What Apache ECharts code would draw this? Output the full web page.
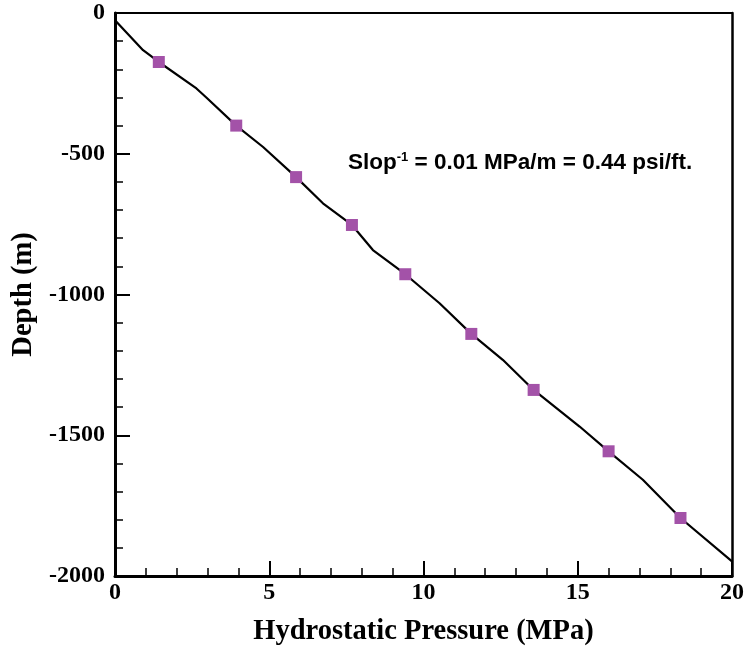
<!DOCTYPE html>
<html>
<head>
<meta charset="utf-8">
<script src="https://cdn.jsdelivr.net/npm/echarts@6/dist/echarts.min.js"></script>
<style>html,body{margin:0;padding:0;background:#fff}#c{width:747px;height:651px}</style>
</head>
<body>
<div id="c"></div>
<script>
// Traced curve (pressure MPa, depth m)
var lineX = [0, 0.91, 1.42, 2.64, 2.96, 3.93, 4.80, 5.87, 6.74, 7.68, 8.36, 9.41, 10.52, 11.55, 12.57, 13.57, 15.06, 16.0, 17.11, 18.33, 20];
var lineY = [-26, -132, -174, -268, -300, -400, -476, -583, -676, -753, -842, -928, -1031, -1140, -1232, -1339, -1469, -1557, -1658, -1794, -1948];
// Square markers
var markX = [1.42, 3.93, 5.87, 7.68, 9.41, 11.55, 13.57, 16.0, 18.33];
var markY = [-174, -400, -583, -753, -928, -1140, -1339, -1557, -1794];
var xTicks = [0, 5, 10, 15, 20];
var yTicks = [0, -500, -1000, -1500, -2000];
var xTitle = 'Hydrostatic Pressure (MPa)';
var yTitle = 'Depth (m)';

var chart = echarts.init(document.getElementById('c'), null, {renderer: 'canvas'});
var serif = '"Liberation Serif", "Times New Roman", serif';
var sans = '"Liberation Sans", Arial, sans-serif';
var lineData = lineX.map(function (x, i) { return [x, lineY[i]]; });
var markData = markX.map(function (x, i) { return [x, markY[i]]; });

chart.setOption({
  animation: false,
  backgroundColor: '#ffffff',
  grid: {left: 115, right: 15, top: 13, bottom: 75, containLabel: false},
  xAxis: [{
    type: 'value', min: xTicks[0], max: xTicks[xTicks.length - 1], interval: 5,
    position: 'bottom',
    name: xTitle, nameLocation: 'middle', nameGap: 41,
    nameTextStyle: {fontFamily: serif, fontWeight: 'bold', fontSize: 28.5, color: '#000'},
    axisLine: {show: true, onZero: false, lineStyle: {color: '#000', width: 3}},
    axisTick: {show: true, inside: true, length: 15, lineStyle: {color: '#000', width: 2}},
    minorTick: {show: true, splitNumber: 5, length: 8, lineStyle: {color: '#000', width: 1.5}},
    axisLabel: {fontFamily: serif, fontWeight: 'bold', fontSize: 24, color: '#000', margin: 5,
      formatter: function (v) { return String(v); }},
    splitLine: {show: false}
  }, {
    type: 'value', min: 0, max: 20, position: 'top',
    axisLine: {show: true, onZero: false, lineStyle: {color: '#000', width: 2}},
    axisTick: {show: false}, axisLabel: {show: false}, splitLine: {show: false}
  }],
  yAxis: [{
    type: 'value', min: yTicks[yTicks.length - 1], max: yTicks[0], interval: 500,
    position: 'left',
    name: yTitle, nameLocation: 'middle', nameGap: 74, nameRotate: 90,
    nameTextStyle: {fontFamily: serif, fontWeight: 'bold', fontSize: 28.5, color: '#000'},
    axisLine: {show: true, onZero: false, lineStyle: {color: '#000', width: 3}},
    axisTick: {show: true, inside: true, length: 15, lineStyle: {color: '#000', width: 2}},
    minorTick: {show: true, splitNumber: 5, length: 8, lineStyle: {color: '#000', width: 1.5}},
    axisLabel: {fontFamily: serif, fontWeight: 'bold', fontSize: 24, color: '#000', margin: 10,
      formatter: function (v) { return String(v); }},
    splitLine: {show: false}
  }, {
    type: 'value', min: -2000, max: 0, position: 'right',
    axisLine: {show: true, onZero: false, lineStyle: {color: '#000', width: 2.5}},
    axisTick: {show: false}, axisLabel: {show: false}, splitLine: {show: false}
  }],
  series: [{
    type: 'line', data: lineData, showSymbol: false, symbol: 'none',
    lineStyle: {color: '#000', width: 2.2}, z: 2
  }, {
    type: 'scatter', data: markData, symbol: 'rect', symbolSize: 12,
    itemStyle: {color: '#A352A8', opacity: 1}, z: 3
  }],
  graphic: [{
    type: 'text', left: 348, top: 151,
    style: {
      text: 'Slop{sup|-1} = 0.01 MPa/m = 0.44 psi/ft.',
      fontFamily: sans, fontWeight: 'bold', fontSize: 22.5, fill: '#000',
      rich: {sup: {fontFamily: sans, fontWeight: 'bold', fontSize: 13, verticalAlign: 'top', padding: [0, 0, 10, 0]}}
    }
  }]
});
</script>
</body>
</html>
